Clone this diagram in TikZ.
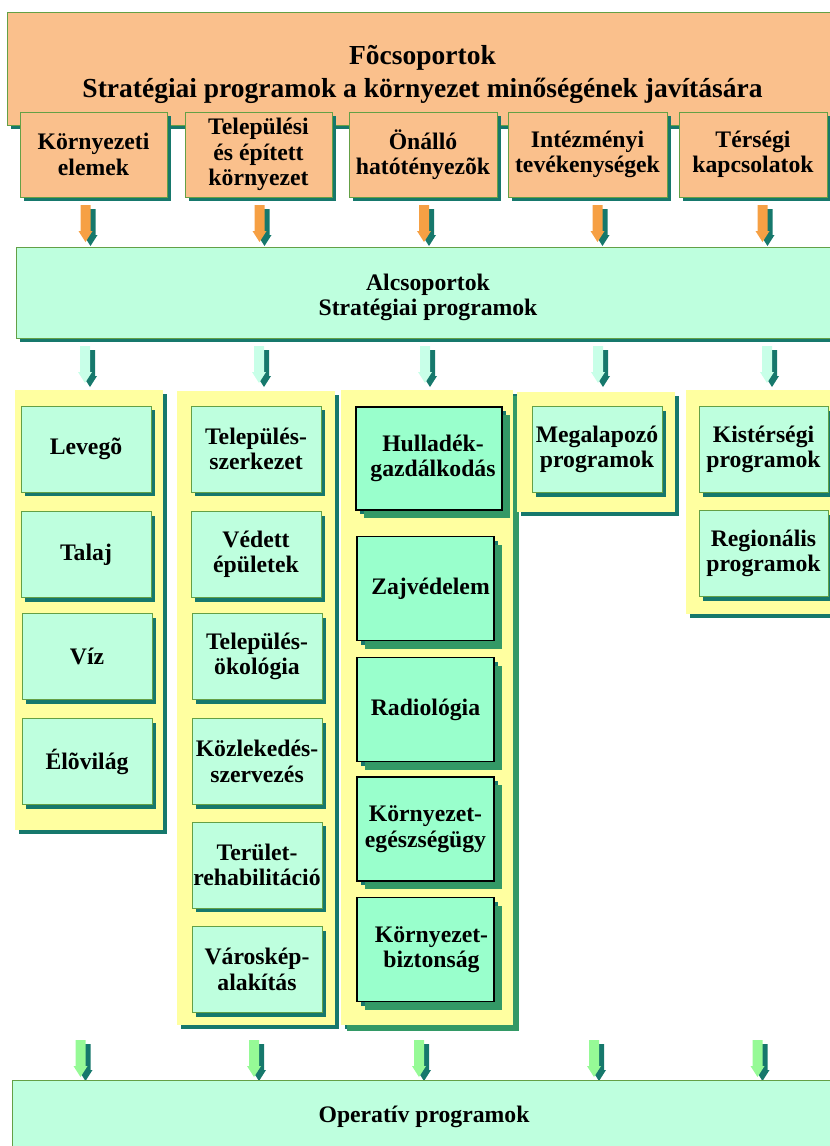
\documentclass[tikz,border=0pt]{standalone}
\usepackage{fontspec}
\setmainfont{Liberation Serif}
\usetikzlibrary{shadows}

\definecolor{peach}{RGB}{250,192,140}
\definecolor{orangearr}{RGB}{246,160,68}
\definecolor{shadowteal}{RGB}{22,120,108}
\definecolor{paleteal}{RGB}{190,255,222}
\definecolor{paleyellow}{RGB}{255,255,160}
\definecolor{mintgreen}{RGB}{153,255,204}
\definecolor{darkgreen}{RGB}{51,153,102}
\definecolor{arrcyan}{RGB}{200,255,232}
\definecolor{arrgreen}{RGB}{150,250,150}
\definecolor{edgegreen}{RGB}{100,160,70}

\begin{document}
\begin{tikzpicture}[
    x=1pt, y=-1pt,
    txt/.style={font=\fontsize{23.7}{25.5}\selectfont\bfseries},
    shad/.style={drop shadow={shadow xshift=#1, shadow yshift=-#1, fill=shadowteal, opacity=1}},
    shad/.default=4pt,
    box/.style={draw=edgegreen, line width=0.8pt, fill=paleteal, rectangle, inner sep=0pt, align=center,
        minimum width=130pt, minimum height=86pt, txt, shad},
    topbox/.style={box, fill=peach, minimum width=147pt, minimum height=85pt},
    wide/.style={box, minimum height=91pt},
    panel/.style={rectangle, fill=paleyellow, inner sep=0pt, shad},
    redbox/.style={box, draw=black, line width=1.5pt, fill=mintgreen, minimum width=137pt, minimum height=104pt,
        drop shadow={shadow xshift=8pt, shadow yshift=-8pt, fill=darkgreen, opacity=1}},
    downarr/.pic={
        \fill[shadowteal, shift={(5,4)}] (-5,0) -- (5,0) -- (5,26) -- (7,26) -- (0,37) -- (-7,26) -- (-5,26) -- cycle;
        \fill[pic actions] (-5,0) -- (5,0) -- (5,26) -- (7,26) -- (0,37) -- (-7,26) -- (-5,26) -- cycle;
    }
]
\useasboundingbox (0,0) rectangle (830,1146);

% Focsoportok
\node[box, fill=peach, minimum width=831pt, minimum height=113pt] (focs) at (422.5,68.5) {};
\node[font=\fontsize{27.5}{33}\selectfont\bfseries, align=center] (focstxt) at (422.5,74)
    {Fõcsoportok\\Stratégiai programok a környezet minőségének javítására};

\node[topbox] (k1) at (93.5,154.5) {Környezeti\\elemek};
\node[topbox] (k2) at (258.5,154.5) {Települési\\és épített\\környezet};
\node[topbox, minimum width=148pt] (k3) at (423,154.5) {Önálló\\hatótényezõk};
\node[topbox, minimum width=159pt] (k4) at (587.5,154.5) {Intézményi\\tevékenységek};
\node[topbox, minimum width=148pt] (k5) at (753,154.5) {Térségi\\kapcsolatok};

% Arrows
\pic[fill=orangearr] at (85.5,205) {downarr};
\pic[fill=orangearr] at (259.5,205) {downarr};
\pic[fill=orangearr] at (424,205) {downarr};
\pic[fill=orangearr] at (597.5,205) {downarr};
\pic[fill=orangearr] at (762.5,205) {downarr};

% Alcsoportok
\node[wide, minimum width=822pt] (alcs) at (427,292.5) {};
\node[txt, align=center] (alcstxt) at (428,297.5) {Alcsoportok\\Stratégiai programok};

\pic[fill=arrcyan] at (85,346) {downarr};
\pic[fill=arrcyan] at (259,346) {downarr};
\pic[fill=arrcyan] at (425,346) {downarr};
\pic[fill=arrcyan] at (598,346) {downarr};
\pic[fill=arrcyan] at (767,346) {downarr};

% Panels
\node[panel, minimum width=148pt, minimum height=440pt] (p1) at (89,610) {};
\node[panel, minimum width=158pt, minimum height=634pt] (p2) at (256,708) {};
\node[panel, minimum width=172pt, minimum height=635pt,
    drop shadow={shadow xshift=6pt, shadow yshift=-6pt, fill=darkgreen, opacity=1}] (p3) at (427,707.5) {};
\node[panel, minimum width=158pt, minimum height=120pt] (p4) at (596,452) {};
\node[panel, minimum width=149pt, minimum height=224pt] (p5) at (760.5,502) {};

% Column 1
\node[box] (levego) at (86,449) {Levegõ};
\node[box] (talaj) at (86,554.5) {Talaj};
\node[box] (viz) at (87,656.5) {Víz};
\node[box] (elovilag) at (87,761.5) {Élõvilág};

% Column 2
\node[box] (szerk) at (256,449) {Település-\\szerkezet};
\node[box] (vedett) at (256,554.5) {Védett\\épületek};
\node[box] (okol) at (257,656.5) {Település-\\ökológia};
\node[box] (kozl) at (257,761.5) {Közlekedés-\\szervezés};
\node[box] (rehab) at (257,865) {Terület-\\rehabilitáció};
\node[box] (varos) at (257,969.5) {Városkép-\\alakítás};

% Column 3
\node[redbox, minimum width=146pt, minimum height=103pt] (hull) at (429,458.5) {\hspace*{8pt}Hulladék-\\\hspace*{8pt}gazdálkodás};
\node[redbox] (zaj) at (425.5,588.5) {\hspace*{10pt}Zajvédelem};
\node[redbox] (radio) at (425.5,709.5) {Radiológia};
\node[redbox] (egesz) at (425.5,829) {Környezet-\\egészségügy};
\node[redbox] (bizt) at (425.5,949.5) {\hspace*{12pt}Környezet-\\\hspace*{12pt}biztonság};

% Column 4 and 5
\node[box] (megal) at (597,449.5) {Megalapozó\\programok};
\node[box, minimum width=129pt] (kist) at (763.5,449.5) {Kistérségi\\programok};
\node[box, minimum width=129pt] (regio) at (763.5,553.5) {Regionális\\programok};

\pic[fill=arrgreen] at (80.5,1040) {downarr};
\pic[fill=arrgreen] at (254,1040) {downarr};
\pic[fill=arrgreen] at (419,1040) {downarr};
\pic[fill=arrgreen] at (594,1040) {downarr};
\pic[fill=arrgreen] at (757.5,1040) {downarr};

% Operativ
\node[box, minimum width=826pt, minimum height=70pt] (oper) at (425,1115) {};
\node[txt] (opertxt) at (424,1117) {Operatív programok};

\end{tikzpicture}
\end{document}
